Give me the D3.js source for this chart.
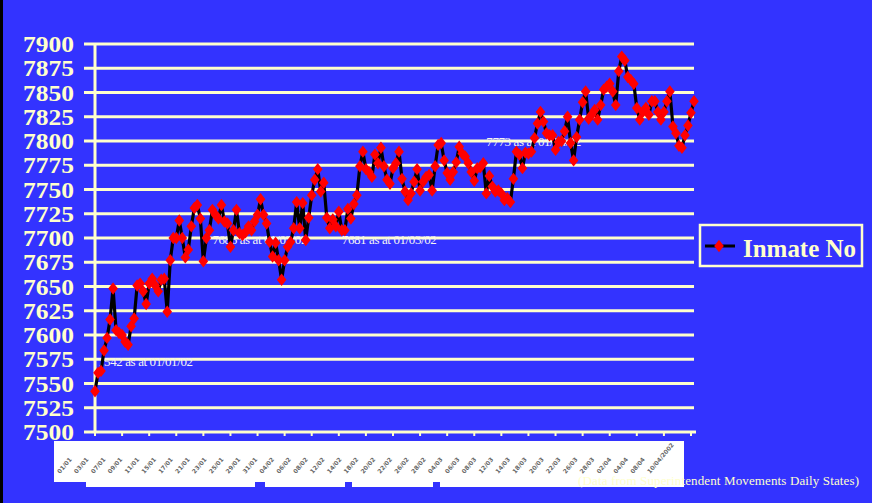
<!DOCTYPE html>
<html><head><meta charset="utf-8">
<script src="https://cdn.jsdelivr.net/npm/d3@7"></script>
<style>html,body{margin:0;padding:0;background:#3333ff;overflow:hidden}</style>
</head><body>
<svg id="chart" width="872" height="503"></svg>
<script>
// ---- data ----
const seriesName = "Inmate No";
const inmateNo = [
 7542,7561,7563,7584,7597,7616,7648,7605,7602,7600,7593,7590,7609,7617,7651,7653,7645,7632,7653,7658,7651,7645,7657,7658,7624,7677,7700,7700,7718,7700,7680,7688,7712,7731,
 7734,7720,7676,7700,7708,7729,7724,7720,7734,7717,7715,7691,7708,7729,7705,7703,7706,7712,7708,7717,7724,7740,7724,7715,7696,7681,7695,7677,7657,7677,7691,7696,7710,7737,
 7710,7736,7698,7721,7744,7760,7771,7748,7757,7721,7710,7719,7712,7727,7708,7708,7730,7720,7735,7744,7774,7789,7771,7768,7763,7786,7777,7793,7774,7760,7756,7772,7777,7789,
 7761,7748,7739,7746,7758,7771,7749,7758,7763,7765,7749,7774,7796,7798,7780,7767,7760,7768,7778,7794,7787,7784,7777,7768,7759,7772,7773,7777,7746,7764,7753,7748,7749,7746,7739,
 7741,7737,7761,7789,7786,7772,7788,7787,7789,7803,7818,7830,7820,7808,7806,7806,7791,7799,7800,7810,7825,7798,7780,7804,7822,7840,
 7851,7823,7827,7832,7822,7837,7853,7856,7859,7851,7837,7872,7887,7883,7866,7863,7859,7834,7822,7830,7834,7827,7841,7841,7830,7822,7830,7841,7851,7815,7808,7795,7793,7806,7816,7829,7841
];
const yTicks = [7500,7525,7550,7575,7600,7625,7650,7675,7700,7725,7750,7775,7800,7825,7850,7875,7900];
const annotationTexts = ["7542 as at 01/01/02","7686 as at 01/02/02","7681 as at 01/03/02","7773 as at 01/04/02"];
const annotationIndex = [1, 39, 82, 130];
const annotationValue = [7568, 7694, 7694, 7795];
const xLabels = ["01/01","03/01","07/01","09/01","11/01","15/01","17/01","21/01","23/01","25/01","29/01","31/01",
 "04/02","06/02","08/02","12/02","14/02","18/02","20/02","22/02","26/02","28/02","04/03","06/03","08/03","12/03",
 "14/03","18/03","20/03","22/03","26/03","28/03","02/04","04/04","08/04","10/04/2002"];
const footnote = "(Data from Superintendent Movements Daily States)";

// ---- chart ----
const svg = d3.select("#chart");
const W = 872, H = 503;
const cream = "#ffffcc";
svg.append("rect").attr("width", W).attr("height", H).attr("fill", "#3333ff");
svg.append("rect").attr("x", 0).attr("y", 0).attr("width", 3).attr("height", H).attr("fill", "#000");

const x = d3.scaleLinear().domain([0, inmateNo.length - 1]).range([95, 694]);
const y = d3.scaleLinear().domain([7500, 7900]).range([432, 44]);

// gridlines
svg.append("g").selectAll("line").data(yTicks.slice(1)).join("line")
  .attr("x1", 84).attr("x2", 694)
  .attr("y1", d => y(d)).attr("y2", d => y(d))
  .attr("stroke", cream).attr("stroke-width", 3);

// y axis line
svg.append("line").attr("x1", 95).attr("x2", 95).attr("y1", y(7900)).attr("y2", y(7500) + 1)
  .attr("stroke", cream).attr("stroke-width", 3);

// x axis line and ticks
svg.append("line").attr("x1", 84).attr("x2", 696).attr("y1", y(7500)).attr("y2", y(7500))
  .attr("stroke", cream).attr("stroke-width", 3);
const xt = d3.range(0, inmateNo.length, 9);
svg.append("g").selectAll("line").data(xt).join("line")
  .attr("x1", d => x(d)).attr("x2", d => x(d))
  .attr("y1", y(7500)).attr("y2", y(7500) + 4)
  .attr("stroke", cream).attr("stroke-width", 2);

// y tick labels
svg.append("g").selectAll("text").data(yTicks).join("text")
  .attr("x", 74).attr("y", d => y(d) + 8)
  .attr("text-anchor", "end")
  .attr("font-family", "'Liberation Serif', 'Times New Roman', serif")
  .attr("font-weight", "bold").attr("font-size", 24)
  .attr("fill", cream)
  .attr("textLength", 51).attr("lengthAdjust", "spacingAndGlyphs")
  .text(d => d);

// annotations
svg.append("g").selectAll("text").data(annotationTexts).join("text")
  .attr("x", (d, i) => x(annotationIndex[i]))
  .attr("y", (d, i) => y(annotationValue[i]))
  .attr("font-family", "'Liberation Serif', 'Times New Roman', serif")
  .attr("font-size", 13)
  .attr("fill", "#f4f4f4")
  .attr("textLength", 95).attr("lengthAdjust", "spacing")
  .text(d => d);

// series line
const line = d3.line().x((d, i) => x(i)).y(d => y(d));
svg.append("path").datum(inmateNo).attr("d", line)
  .attr("fill", "none").attr("stroke", "#000").attr("stroke-width", 3.2).attr("stroke-linejoin", "round");

// markers
const diamond = "M0,-6.2L4.8,0L0,6.2L-4.8,0Z";
svg.append("g").selectAll("path").data(inmateNo).join("path")
  .attr("transform", (d, i) => `translate(${x(i)},${y(d)})`)
  .attr("d", diamond).attr("fill", "#ff0000");

// x label box
svg.append("rect").attr("x", 54).attr("y", 441).attr("width", 630).attr("height", 46).attr("fill", "#fff");
[[54, 86], [255, 265], [345, 352], [433, 440]].forEach(g => {
  svg.append("rect").attr("x", g[0]).attr("y", 482).attr("width", g[1] - g[0]).attr("height", 6).attr("fill", "#3333ff");
});
const xl = d3.scaleLinear().domain([0, xLabels.length - 1]).range([60, 650]);
svg.append("g").selectAll("text").data(xLabels).join("text")
  .attr("transform", (d, i) => `translate(${xl(i)},${474}) rotate(-50)`)
  .attr("font-family", "'DejaVu Sans', sans-serif")
  .attr("font-size", 6).attr("font-weight", "bold")
  .attr("fill", "#666")
  .text(d => d);

// footnote
svg.append("text").attr("x", 578).attr("y", 485)
  .attr("font-family", "'Liberation Serif', 'Times New Roman', serif")
  .attr("font-size", 13).attr("fill", cream)
  .attr("textLength", 281).attr("lengthAdjust", "spacing")
  .text(footnote);

// legend
const lg = svg.append("g");
lg.append("rect").attr("x", 700).attr("y", 225).attr("width", 162).attr("height", 41)
  .attr("fill", "none").attr("stroke", cream).attr("stroke-width", 2.5);
lg.append("line").attr("x1", 705).attr("x2", 735).attr("y1", 246).attr("y2", 246)
  .attr("stroke", "#000").attr("stroke-width", 3);
lg.append("path").attr("transform", "translate(719,246)").attr("d", diamond).attr("fill", "#ff0000");
lg.append("text").attr("x", 743).attr("y", 257)
  .attr("font-family", "'Liberation Serif', 'Times New Roman', serif")
  .attr("font-weight", "bold").attr("font-size", 26).attr("fill", cream)
  .attr("textLength", 113).attr("lengthAdjust", "spacingAndGlyphs")
  .text(seriesName);
</script>
</body></html>
